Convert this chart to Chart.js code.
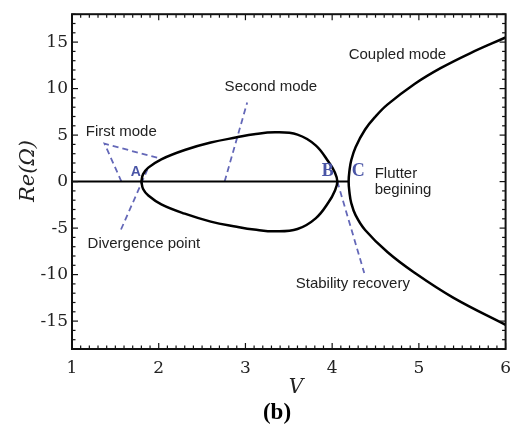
<!DOCTYPE html>
<html><head><meta charset="utf-8">
<script src="https://cdn.jsdelivr.net/npm/chart.js@4/dist/chart.umd.min.js"></script>
<style>html,body{margin:0;padding:0;background:#fff}#wrap{width:520px;height:428px}</style>
</head><body><div id="wrap"><canvas id="c" width="520" height="428"></canvas></div>
<script>
// ---- data ----
const xTicks = [1, 2, 3, 4, 5, 6];
const yTicks = [-15, -10, -5, 0, 5, 10, 15];
const baselineX = [1, 4.19];
const baselineY = [0, 0];
// closed loop (first/second mode), traced A -> upper -> B -> lower -> A
const loopX = [1.80, 1.82, 1.88, 2.03, 2.30, 2.60, 2.90, 3.10, 3.35, 3.60, 3.81, 3.96, 4.03, 4.06,
               4.03, 3.96, 3.81, 3.60, 3.35, 3.10, 2.90, 2.60, 2.30, 2.03, 1.88, 1.82, 1.80];
const loopY = [0, 0.8, 1.5, 2.4, 3.4, 4.2, 4.76, 5.1, 5.3, 5.05, 3.9, 2.1, 1.0, 0,
               -1.0, -2.2, -3.95, -5.1, -5.35, -5.15, -4.85, -4.3, -3.45, -2.45, -1.5, -0.8, 0];
// coupled mode, traced from lower end through C to upper end
const coupledX = [6.0, 5.40, 4.95, 4.64, 4.38, 4.27, 4.22, 4.20, 4.19, 4.20, 4.22, 4.27, 4.38, 4.50, 4.64, 4.95, 5.25, 5.59, 6.0];
const coupledY = [-15.4, -12.5, -9.8, -7.6, -5.2, -3.6, -2.3, -1.2, 0, 1.2, 2.3, 3.7, 5.6, 7.0, 8.3, 10.5, 12.2, 13.8, 15.5];
// dashed pointer lines
const firstModeX = [1.57, 1.375, 2.04];
const firstModeY = [0, 4.08, 2.42];
const divergenceX = [1.565, 1.87];
const divergenceY = [-5.15, 1.3];
const secondModeX = [2.76, 3.02];
const secondModeY = [0, 8.5];
const stabilityX = [4.06, 4.37];
const stabilityY = [0, -9.83];
// annotation labels
const noteText = ['First mode', 'Second mode', 'Coupled mode', 'Flutter', 'begining', 'Divergence point', 'Stability recovery'];
const noteX = [1.16, 2.76, 4.19, 4.49, 4.49, 1.18, 3.58];
const noteY = [5.4, 10.2, 13.6, 0.85, -0.85, -6.7, -11.0];
const pointText = ['A', 'B', 'C'];
const pointX = [1.735, 3.95, 4.30];
const pointY = [1.0, 1.06, 1.06];

const pts = (xs, ys) => xs.map((v, i) => ({x: v, y: ys[i]}));
const DASH = '#6468b8';
function dashed(xs, ys) {
  return {data: pts(xs, ys), showLine: true, borderColor: DASH, borderWidth: 1.8, borderDash: [6, 4], pointRadius: 0, tension: 0, fill: false};
}

const deco = {
  id: 'deco',
  afterDraw(chart) {
    const {ctx, chartArea: a, scales: {x, y}} = chart;
    ctx.save();
    ctx.strokeStyle = '#111';
    ctx.lineWidth = 1.2;
    const ln = (x1, y1, x2, y2) => { ctx.beginPath(); ctx.moveTo(x1, y1); ctx.lineTo(x2, y2); ctx.stroke(); };
    for (let i = 0; i <= 50; i++) {
      const v = x.min + i * 0.1;
      const px = x.getPixelForValue(v);
      const len = (i % 10 === 0) ? 6 : 3.5;
      ln(px, a.bottom, px, a.bottom - len);
      ln(px, a.top, px, a.top + len);
    }
    for (let v = y.min; v <= y.max; v++) {
      const py = y.getPixelForValue(v);
      const len = (v % 5 === 0) ? 6 : 3.5;
      ln(a.left, py, a.left + len, py);
      ln(a.right, py, a.right - len, py);
    }
    ctx.lineWidth = 2;
    ctx.strokeRect(a.left, a.top, a.right - a.left, a.bottom - a.top);

    // annotation texts
    ctx.fillStyle = '#222';
    ctx.font = '15px "Liberation Sans", Arial, sans-serif';
    ctx.textAlign = 'left';
    ctx.textBaseline = 'middle';
    noteText.forEach((t, i) => ctx.fillText(t, x.getPixelForValue(noteX[i]), y.getPixelForValue(noteY[i])));

    ctx.fillStyle = '#4a55a6';
    ctx.textAlign = 'center';
    pointText.forEach((t, i) => {
      ctx.font = i === 0 ? 'bold 14px "Liberation Sans", Arial, sans-serif' : 'bold 18px "Liberation Serif", "Times New Roman", serif';
      ctx.fillText(t, x.getPixelForValue(pointX[i]), y.getPixelForValue(pointY[i]));
    });

    // axis titles
    ctx.fillStyle = '#222';
    ctx.font = 'italic 20px "DejaVu Serif", serif';
    ctx.fillText('V', 296, 388);
    ctx.save();
    ctx.translate(29, 171);
    ctx.rotate(-Math.PI / 2);
    ctx.font = 'italic 21px "DejaVu Serif", serif';
    ctx.fillText('Re(\u03A9)', 0, 0);
    ctx.restore();
    ctx.fillStyle = '#000';
    ctx.font = 'bold 23px "Liberation Serif", "Times New Roman", serif';
    ctx.fillText('(b)', 277, 413);
    ctx.restore();
  }
};

new Chart(document.getElementById('c'), {
  type: 'scatter',
  data: {
    datasets: [
      {data: pts(baselineX, baselineY), showLine: true, borderColor: '#000', borderWidth: 2, pointRadius: 0, tension: 0},
      {data: pts(loopX, loopY), showLine: true, borderColor: '#000', borderWidth: 2.5, pointRadius: 0, tension: 0.4},
      {data: pts(coupledX, coupledY), showLine: true, borderColor: '#000', borderWidth: 2.5, pointRadius: 0, tension: 0.4},
      dashed(firstModeX, firstModeY),
      dashed(divergenceX, divergenceY),
      dashed(secondModeX, secondModeY),
      dashed(stabilityX, stabilityY)
    ]
  },
  options: {
    responsive: false,
    animation: false,
    devicePixelRatio: 1,
    layout: {padding: {top: 11, right: 7, left: 0, bottom: 0}},
    plugins: {legend: {display: false}, tooltip: {enabled: false}},
    scales: {
      x: {
        type: 'linear', min: 1, max: 6,
        afterBuildTicks: s => { s.ticks = xTicks.map(v => ({value: v})); },
        afterFit: s => { s.height = 79; },
        grid: {display: false, drawTicks: false},
        border: {display: false},
        ticks: {font: {family: '"DejaVu Serif", serif', size: 17}, color: '#222', padding: 9, maxRotation: 0}
      },
      y: {
        type: 'linear', min: -18, max: 18,
        afterBuildTicks: s => { s.ticks = yTicks.map(v => ({value: v})); },
        afterFit: s => { s.width = 72; },
        grid: {display: false, drawTicks: false},
        border: {display: false},
        ticks: {font: {family: '"DejaVu Serif", serif', size: 17}, color: '#222', padding: 4}
      }
    }
  },
  plugins: [deco]
});
</script>
</body></html>
